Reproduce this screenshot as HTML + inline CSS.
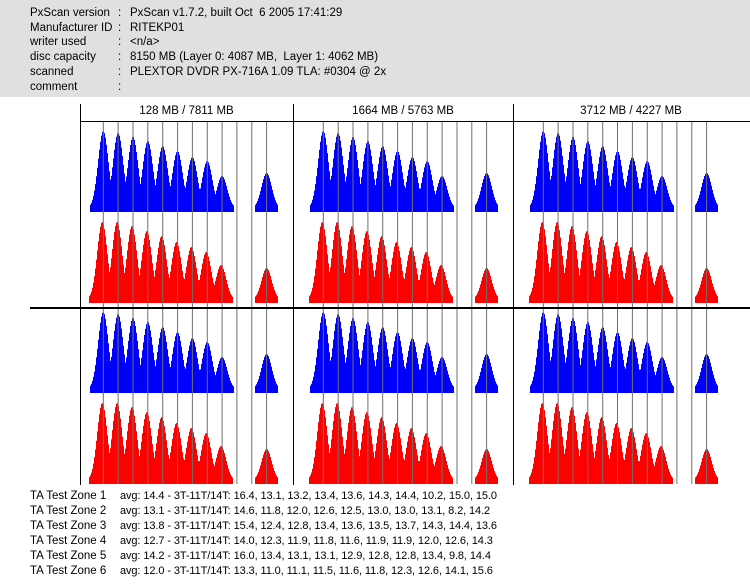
<!DOCTYPE html>
<html><head><meta charset="utf-8">
<style>
body{margin:0;width:750px;height:584px;background:#fff;position:relative;overflow:hidden;font-family:"Liberation Sans","Noto Sans CJK JP",sans-serif;font-size:11.5px;color:#000}
#hdr{position:absolute;left:0;top:0;width:750px;height:97px;background:#e0e0e0}
.r{position:absolute;white-space:pre;line-height:14px}
.z{font-size:11px}
svg{position:absolute;left:0;top:0}
</style></head><body>
<div id="hdr"></div>
<div id="txt"></div>
<svg id="s" width="750" height="584"></svg>
<script>
var txt=document.getElementById('txt'),h='';
var hl=[["PxScan version","PxScan v1.7.2, built Oct  6 2005 17:41:29"],["Manufacturer ID","RITEKP01"],["writer used","<n/a>"],["disc capacity","8150 MB (Layer 0: 4087 MB,  Layer 1: 4062 MB)"],["scanned","PLEXTOR DVDR PX-716A 1.09 TLA: #0304 @ 2x"],["comment",""]];
hl.forEach(function(a,i){var y=6+i*14.7;h+='<div class="r" style="left:30px;top:'+y+'px">'+a[0]+'</div><div class="r" style="left:118px;top:'+y+'px">:</div><div class="r" style="left:130px;top:'+y+'px">'+a[1].replace(/</g,'&lt;').replace(/>/g,'&gt;')+'</div>';});
var zl=["avg: 14.4 - 3T-11T/14T: 16.4, 13.1, 13.2, 13.4, 13.6, 14.3, 14.4, 10.2, 15.0, 15.0","avg: 13.1 - 3T-11T/14T: 14.6, 11.8, 12.0, 12.6, 12.5, 13.0, 13.0, 13.1, 8.2, 14.2","avg: 13.8 - 3T-11T/14T: 15.4, 12.4, 12.8, 13.4, 13.6, 13.5, 13.7, 14.3, 14.4, 13.6","avg: 12.7 - 3T-11T/14T: 14.0, 12.3, 11.9, 11.8, 11.6, 11.9, 11.9, 12.0, 12.6, 14.3","avg: 14.2 - 3T-11T/14T: 16.0, 13.4, 13.1, 13.1, 12.9, 12.8, 12.8, 13.4, 9.8, 14.4","avg: 12.0 - 3T-11T/14T: 13.3, 11.0, 11.1, 11.5, 11.6, 11.8, 12.3, 12.6, 14.1, 15.6"];
zl.forEach(function(a,i){var y=489+i*15;h+='<div class="r" style="left:30px;top:'+y+'px">TA Test Zone '+(i+1)+'</div><div class="r z" style="left:120px;top:'+y+'px;letter-spacing:-0.1px">'+a+'</div>';});
var tt=[["128 MB / 7811 MB",186.5],["1664 MB / 5763 MB",403],["3712 MB / 4227 MB",631]];
tt.forEach(function(a){h+='<div class="r" style="left:'+(a[1]-60)+'px;width:120px;text-align:center;top:104px">'+a[0]+'</div>';});
txt.innerHTML=h;
var s='';
var starts=[103.3,323.3,543.3];
var HB=[77,75,71,67,62,57,51,47,32,0,0,35];
var HR=[77,77,73,68,63,57,52,47,34,0,0,31];
function peaks(x0,base,H,sig,floor,col){
 var xs=x0-16,xe=x0+11*14.85+12;
 var d='';
 for(var x=Math.floor(xs);x<xe;x++){
  var v=0;
  for(var k=0;k<12;k++){if(!H[k])continue;var c=x0+k*14.85-(col=='r'&&k<9?1:0);var dx=x+0.5-c;v=Math.max(v,H[k]*Math.exp(-dx*dx/(2*sig*sig)));}
  if(v>2.5){v+=floor; d+='M'+x+' '+base+'V'+(base-v).toFixed(1)+'H'+(x+1)+'V'+base+'Z';}
 }
 return '<path d="'+d+'" fill="'+(col=='b'?'#0000ff':'#ff0000')+'"/>';
}
var rows=[[212,303],[393,484]];
starts.forEach(function(x0){
 rows.forEach(function(r){
  s+=peaks(x0,r[0],HB,5.1,4,'b');
  s+=peaks(x0,r[1],HR,5.0,4,'r');
 });
 for(var k=0;k<12;k++){var x=(x0+k*14.85).toFixed(1);s+='<line x1="'+x+'" y1="121" x2="'+x+'" y2="484" stroke="#707070" stroke-width="1"/>';}
});
[80.5,293.5,513.5].forEach(function(x){s+='<line x1="'+x+'" y1="104" x2="'+x+'" y2="485" stroke="#000" stroke-width="1"/>';});
s+='<line x1="80" y1="121.5" x2="750" y2="121.5" stroke="#000"/>';
s+='<line x1="30" y1="308" x2="750" y2="308" stroke="#000" stroke-width="2"/>';
document.getElementById('s').innerHTML=s;
</script>
</body></html>
